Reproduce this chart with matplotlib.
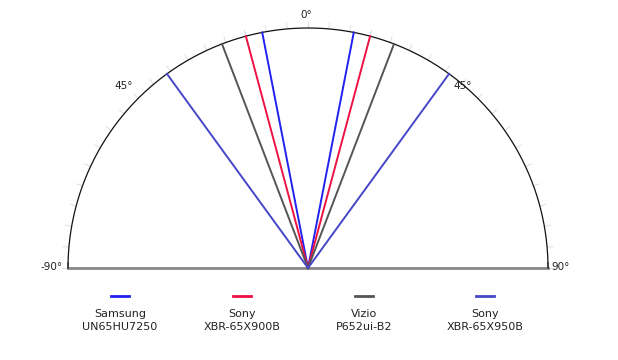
import numpy as np
import matplotlib
matplotlib.use("Agg")
import matplotlib.pyplot as plt

# Data: viewing-angle half-widths (degrees from center) for each TV
tv_names = ["Samsung\nUN65HU7250", "Sony\nXBR-65X900B", "Vizio\nP652ui-B2", "Sony\nXBR-65X950B"]
left_angles = [-11, -15, -21, -36]
right_angles = [11, 15, 21, 36]
colors = ["#2222ee", "#ee1144", "#555555", "#4646c8"]
angle_labels = [-90, -45, 0, 45, 90]
angle_label_text = ["-90°", "45°", "0°", "45°", "90°"]

W, H = 618, 360
cx, cy, R = 308, 268, 240
fig = plt.figure(figsize=(W / 100, H / 100), dpi=100)
ax = fig.add_axes([0, 0, 1, 1])
ax.set_xlim(-cx / R, (W - cx) / R)
ax.set_ylim(-(H - cy) / R, cy / R)
ax.axis("off")

# arc
t = np.linspace(-90, 90, 400)
ax.plot(np.sin(np.radians(t)), np.cos(np.radians(t)), color="#111111", lw=0.9, zorder=3)
# faint ticks every 5 degrees
for a in range(-90, 91, 5):
    r = np.radians(a)
    ax.plot([np.sin(r) * 1.0, np.sin(r) * 1.025], [np.cos(r) * 1.0, np.cos(r) * 1.025],
            color="#dddddd", lw=0.7, zorder=2)
# baseline
ax.plot([-1, 1], [0, 0], color="#888888", lw=2, zorder=2)
ax.plot([-1, -1], [0, 0.02], color="#888888", lw=1.2)
ax.plot([1, 1], [0, 0.02], color="#888888", lw=1.2)

# angle lines
for la, ra, c in zip(left_angles, right_angles, colors):
    for a in (la, ra):
        r = np.radians(a)
        ax.plot([0, np.sin(r)], [0, np.cos(r)], color=c, lw=1.4, zorder=4)

# angle labels
lab_pos = {-90: (52, 267), -45: (124, 86), 0: (306, 15), 45: (463, 86), 90: (561, 267)}
for a, s in zip(angle_labels, angle_label_text):
    px, py = lab_pos[a]
    ax.text((px - cx) / R, (cy - py) / R, s, ha="center", va="center", fontsize=7.5,
            color="#222222", family="DejaVu Sans")

# legend
leg_x = [120, 242, 364, 485]
for x, name, c in zip(leg_x, tv_names, colors):
    ax.plot([(x - 9 - cx) / R, (x + 9 - cx) / R], [(cy - 296) / R] * 2, color=c, lw=2)
    ax.text((x - cx) / R, (cy - 320.5) / R, name, ha="center", va="center", fontsize=8,
            color="#222222", linespacing=1.35)

fig.savefig("out.png", dpi=100)
